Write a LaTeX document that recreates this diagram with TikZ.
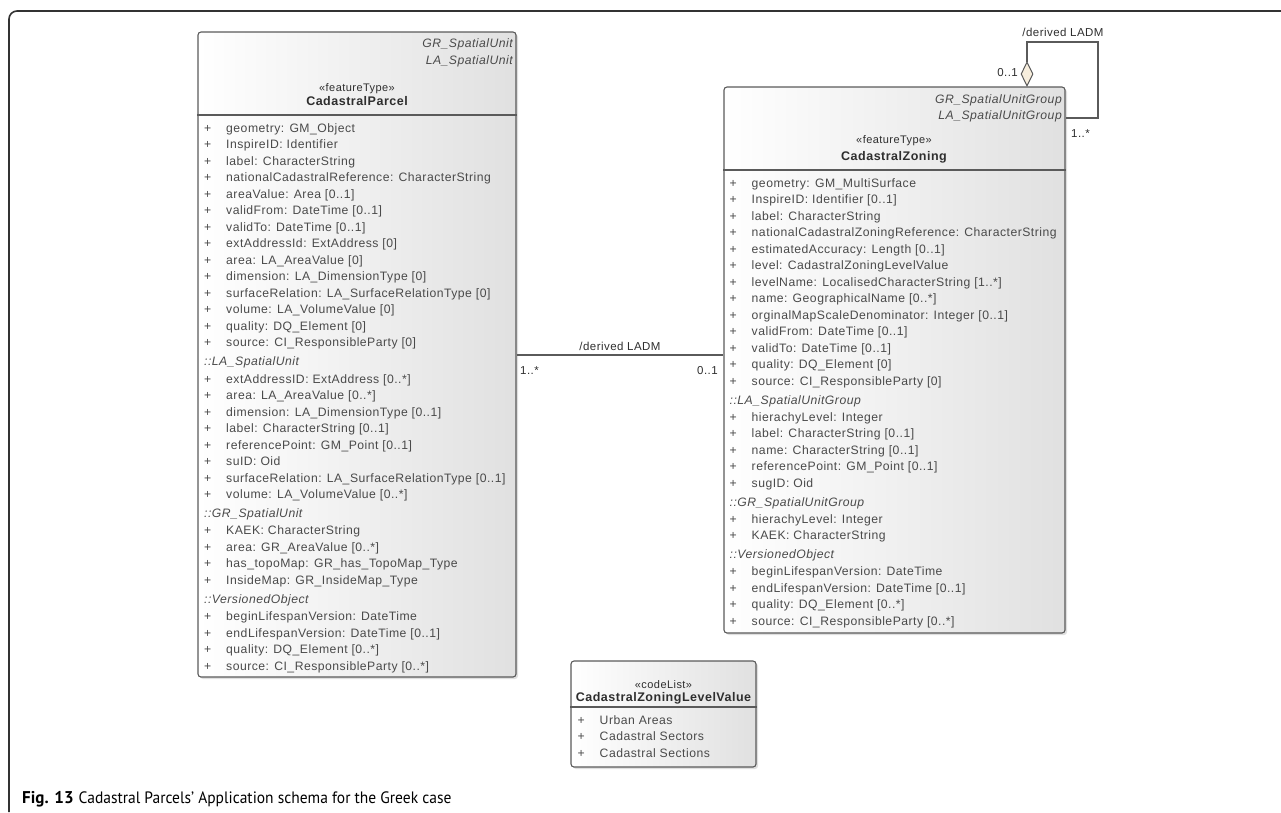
\documentclass[tikz,border=0pt]{standalone}
\usepackage{fontspec}
\setmainfont{Liberation Sans}
\newfontfamily\umlfont{Liberation Sans}[LetterSpace=4]
\newfontfamily\legendfont{PT Sans}
\usetikzlibrary{shapes.geometric,shadows}

\definecolor{umltexte}{HTML}{4A4A4A}
\definecolor{umlfonce}{HTML}{2E2E2E}
\definecolor{umltrait}{HTML}{5A5A5A}
\definecolor{losange}{HTML}{F7EEDD}

\newcommand{\attr}[1]{\strut\makebox[22pt][l]{+}#1}
\newcommand{\herite}[1]{\strut\textit{::#1}}

\tikzset{
  classe/.style={draw=umltrait, line width=1.1pt, rounded corners=3pt,
    left color=white, right color=black!12,
    drop shadow={shadow xshift=2pt, shadow yshift=-2pt, opacity=0.25}},
  attributs/.style={anchor=north west, inner sep=0pt, align=left, text=umltexte,
    font=\umlfont\fontsize{12.2}{16.5}\selectfont},
  parent/.style={anchor=base east, inner sep=0pt, text=umltexte,
    font=\umlfont\itshape\fontsize{12.2}{14}\selectfont},
  stereo/.style={anchor=base, inner sep=0pt, text=umlfonce,
    font=\umlfont\fontsize{11}{13}\selectfont},
  nomclasse/.style={anchor=base, inner sep=0pt, text=umlfonce,
    font=\umlfont\bfseries\fontsize{12.5}{14}\selectfont},
  etiquette/.style={inner sep=0pt, text=umlfonce,
    font=\umlfont\fontsize{11.5}{13}\selectfont},
  lien/.style={draw=umltrait, line width=1.1pt},
  agregat/.style={diamond, draw=umltrait, fill=losange, line width=1pt,
    minimum width=12pt, minimum height=24pt, inner sep=0pt},
}

\begin{document}
\begin{tikzpicture}[x=1pt, y=-1pt]
    \useasboundingbox (0,0) rectangle (1281,812);

    % Cadre
    \draw[line width=1.6pt, black!80, rounded corners=8pt] (9,812) -- (9,11) -- (1281,11);

    % Classe CadastralParcel
    \node[classe, minimum width=318pt, minimum height=645pt] (parcelle) at (357,354.5) {};
    \draw[lien] (parcelle.west |- 0,115) -- (parcelle.east |- 0,115);
    \node[parent] (parcellegr) at (513,47.5) {GR\_SpatialUnit};
    \node[parent] (parcellela) at (513,64.5) {LA\_SpatialUnit};
    \node[stereo] (parcellest) at (357,91) {«featureType»};
    \node[nomclasse] (parcellenom) at (357,105.5) {CadastralParcel};
    \node[attributs] (parcelleattr) at (204,120.7) {
        \attr{geometry: GM\_Object}\\
        \attr{InspireID: Identifier}\\
        \attr{label: CharacterString}\\
        \attr{nationalCadastralReference: CharacterString}\\
        \attr{areaValue: Area [0..1]}\\
        \attr{validFrom: DateTime [0..1]}\\
        \attr{validTo: DateTime [0..1]}\\
        \attr{extAddressId: ExtAddress [0]}\\
        \attr{area: LA\_AreaValue [0]}\\
        \attr{dimension: LA\_DimensionType [0]}\\
        \attr{surfaceRelation: LA\_SurfaceRelationType [0]}\\
        \attr{volume: LA\_VolumeValue [0]}\\
        \attr{quality: DQ\_Element [0]}\\
        \attr{source: CI\_ResponsibleParty [0]}\\[2.4pt]
        \herite{LA\_SpatialUnit}\\[0.8pt]
        \attr{extAddressID: ExtAddress [0..*]}\\
        \attr{area: LA\_AreaValue [0..*]}\\
        \attr{dimension: LA\_DimensionType [0..1]}\\
        \attr{label: CharacterString [0..1]}\\
        \attr{referencePoint: GM\_Point [0..1]}\\
        \attr{suID: Oid}\\
        \attr{surfaceRelation: LA\_SurfaceRelationType [0..1]}\\
        \attr{volume: LA\_VolumeValue [0..*]}\\[2.4pt]
        \herite{GR\_SpatialUnit}\\[0.8pt]
        \attr{KAEK: CharacterString}\\
        \attr{area: GR\_AreaValue [0..*]}\\
        \attr{has\_topoMap: GR\_has\_TopoMap\_Type}\\
        \attr{InsideMap: GR\_InsideMap\_Type}\\[2.4pt]
        \herite{VersionedObject}\\[0.8pt]
        \attr{beginLifespanVersion: DateTime}\\
        \attr{endLifespanVersion: DateTime [0..1]}\\
        \attr{quality: DQ\_Element [0..*]}\\
        \attr{source: CI\_ResponsibleParty [0..*]}};

    % Classe CadastralZoning
    \node[classe, minimum width=341pt, minimum height=546pt] (zonage) at (894.5,360) {};
    \draw[lien] (zonage.west |- 0,170) -- (zonage.east |- 0,170);
    \node[parent] (zonagegr) at (1062,103.5) {GR\_SpatialUnitGroup};
    \node[parent] (zonagela) at (1062,119.5) {LA\_SpatialUnitGroup};
    \node[stereo] (zonagest) at (894,143) {«featureType»};
    \node[nomclasse] (zonagenom) at (894,160.5) {CadastralZoning};
    \node[attributs] (zonageattr) at (729.5,175.7) {
        \attr{geometry: GM\_MultiSurface}\\
        \attr{InspireID: Identifier [0..1]}\\
        \attr{label: CharacterString}\\
        \attr{nationalCadastralZoningReference: CharacterString}\\
        \attr{estimatedAccuracy: Length [0..1]}\\
        \attr{level: CadastralZoningLevelValue}\\
        \attr{levelName: LocalisedCharacterString [1..*]}\\
        \attr{name: GeographicalName [0..*]}\\
        \attr{orginalMapScaleDenominator: Integer [0..1]}\\
        \attr{validFrom: DateTime [0..1]}\\
        \attr{validTo: DateTime [0..1]}\\
        \attr{quality: DQ\_Element [0]}\\
        \attr{source: CI\_ResponsibleParty [0]}\\[2.2pt]
        \herite{LA\_SpatialUnitGroup}\\[0.8pt]
        \attr{hierachyLevel: Integer}\\
        \attr{label: CharacterString [0..1]}\\
        \attr{name: CharacterString [0..1]}\\
        \attr{referencePoint: GM\_Point [0..1]}\\
        \attr{sugID: Oid}\\[2.2pt]
        \herite{GR\_SpatialUnitGroup}\\[0.8pt]
        \attr{hierachyLevel: Integer}\\
        \attr{KAEK: CharacterString}\\[2.2pt]
        \herite{VersionedObject}\\[0.8pt]
        \attr{beginLifespanVersion: DateTime}\\
        \attr{endLifespanVersion: DateTime [0..1]}\\
        \attr{quality: DQ\_Element [0..*]}\\
        \attr{source: CI\_ResponsibleParty [0..*]}};

    % Liste de codes
    \node[classe, minimum width=185pt, minimum height=106pt] (niveaux) at (663.5,714) {};
    \draw[lien] (niveaux.west |- 0,707) -- (niveaux.east |- 0,707);
    \node[stereo] (niveauxst) at (663.5,688) {«codeList»};
    \node[nomclasse] (niveauxnom) at (663.5,701.5) {CadastralZoningLevelValue};
    \node[attributs] (niveauxattr) at (577.5,712.7) {
        \attr{Urban Areas}\\
        \attr{Cadastral Sectors}\\
        \attr{Cadastral Sections}};

    % Associations
    \draw[lien] (parcelle.east |- 0,355) -- (zonage.west |- 0,355);
    \node[etiquette, anchor=base] (derive) at (620,350) {/derived LADM};
    \node[etiquette, anchor=base west] (multa) at (520,374) {1..*};
    \node[etiquette, anchor=base east] (multb) at (718,374) {0..1};

    \node[agregat] (agreg) at (1027,74) {};
    \coordinate (boucle) at (1098,42);
    \draw[lien] (agreg.north) |- (boucle) |- (zonage.east |- 0,118);
    \node[etiquette, anchor=base] (deriveb) at (1063,36) {/derived LADM};
    \node[etiquette, anchor=base east] (multc) at (1018,76) {0..1};
    \node[etiquette, anchor=base west] (multd) at (1071,137) {1..*};

    % Légende
    \node[anchor=base west, inner sep=0pt, font=\legendfont] (legende) at (22,803.5)
        {{\fontsize{17}{20}\selectfont\bfseries Fig. 13}\hspace{5pt}\scalebox{0.94}[1]{\fontsize{16.5}{19}\selectfont Cadastral Parcels’ Application schema for the Greek case}};
\end{tikzpicture}
\end{document}
